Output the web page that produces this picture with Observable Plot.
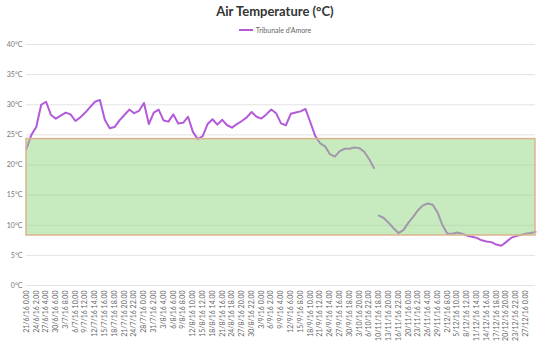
<!DOCTYPE html>
<html>
<head>
<meta charset="utf-8">
<script src="https://cdn.jsdelivr.net/npm/d3@7"></script>
<script src="https://cdn.jsdelivr.net/npm/@observablehq/plot@0.6"></script>
<style>
  html, body { margin: 0; padding: 0; background: #fff; }
  body { width: 550px; height: 353px; overflow: hidden; font-family: Lato, "Open Sans", sans-serif; }
  #title { height: 22px; line-height: 22px; text-align: center; font-weight: bold; font-size: 13px; color: #333; padding-top: 0px; }
  #legend { height: 16px; display: flex; justify-content: center; align-items: center; font-size: 7px; color: #666; }
  #legend .sw { width: 14px; height: 2px; background: #b25ad8; margin-right: 3px; }
</style>
</head>
<body>
<div id="title">Air Temperature (°C)</div>
<div id="legend"><span class="sw"></span><span>Tribunale d'Amore</span></div>
<div id="chart"></div>
<script>
// Category tick labels (one every 74 hours)
const tickLabels = [
  "21/6/16 0.00","24/6/16 2.00","27/6/16 4.00","30/6/16 6.00","3/7/16 8.00","6/7/16 10.00",
  "9/7/16 12.00","12/7/16 14.00","15/7/16 16.00","18/7/16 18.00","21/7/16 20.00","24/7/16 22.00",
  "28/7/16 0.00","31/7/16 2.00","3/8/16 4.00","6/8/16 6.00","9/8/16 8.00","12/8/16 10.00",
  "15/8/16 12.00","18/8/16 14.00","21/8/16 16.00","24/8/16 18.00","27/8/16 20.00","30/8/16 22.00",
  "3/9/16 0.00","6/9/16 2.00","9/9/16 4.00","12/9/16 6.00","15/9/16 8.00","18/9/16 10.00",
  "21/9/16 12.00","24/9/16 14.00","27/9/16 16.00","30/9/16 18.00","3/10/16 20.00","6/10/16 22.00",
  "10/11/16 18.00","13/11/16 20.00","16/11/16 22.00","20/11/16 0.00","23/11/16 2.00","26/11/16 4.00",
  "29/11/16 6.00","2/12/16 8.00","5/12/16 10.00","8/12/16 12.00","11/12/16 14.00","14/12/16 16.00",
  "17/12/16 18.00","20/12/16 20.00","23/12/16 22.00","27/12/16 0.00"
];

// Temperature readings, one every half label interval (37 h)
// Segment before the data gap, starting at category 0
const tempsSummer = [
  22.7, 25.0, 26.3, 30.0, 30.5, 28.3, 27.7, 28.2, 28.7, 28.4,
  27.3, 27.9, 28.7, 29.6, 30.5, 30.8, 27.5, 26.1, 26.3, 27.4,
  28.3, 29.2, 28.6, 29.0, 30.3, 26.8, 28.7, 29.2, 27.4, 27.2,
  28.4, 26.9, 27.0, 28.0, 25.5, 24.3, 24.8, 26.8, 27.6, 26.7,
  27.5, 26.6, 26.2, 26.8, 27.3, 27.9, 28.8, 28.0, 27.7, 28.4,
  29.2, 28.6, 26.9, 26.6, 28.5, 28.7, 28.9, 29.3, 27.1, 24.8,
  23.6, 23.1, 21.8, 21.4, 22.3, 22.7, 22.7, 22.9, 22.8, 22.2,
  21.0, 19.5
];
// Segment after the data gap, starting at category 36
const tempsWinter = [
  11.6, 11.2, 10.4, 9.5, 8.7, 9.2, 10.4, 11.4, 12.5, 13.3,
  13.6, 13.4, 12.1, 10.0, 8.6, 8.6, 8.8, 8.6, 8.3, 8.1,
  7.9, 7.5, 7.3, 7.2, 6.8, 6.6, 7.2, 7.9, 8.2, 8.4,
  8.6, 8.7, 8.9
];
const summerStart = 0;
const winterStart = 36;
const stepPerReading = 0.5;

// Comfort band limits (°C)
const bandLow = 8.3;
const bandHigh = 24.3;

const yTicks = [0, 5, 10, 15, 20, 25, 30, 35, 40];

const series = [
  ...tempsSummer.map((t, i) => ({pos: summerStart + i * stepPerReading, temp: t, seg: "a"})),
  ...tempsWinter.map((t, i) => ({pos: winterStart + i * stepPerReading, temp: t, seg: "b"}))
];
const xMax = d3.max(series, d => d.pos);

const chart = Plot.plot({
  width: 550,
  height: 315,
  marginLeft: 26,
  marginRight: 15,
  marginTop: 6,
  marginBottom: 68,
  style: {fontFamily: "Lato, 'Open Sans', sans-serif", fontSize: "7px", color: "#666", background: "#fff"},
  x: {domain: [0, xMax], axis: null, label: null},
  y: {domain: [0, 40], axis: null, label: null},
  marks: [
    Plot.ruleY(yTicks, {stroke: "#e3e3e3", strokeWidth: 1}),
    Plot.line(series, {x: "pos", y: "temp", z: "seg", stroke: "#b25ad8", strokeWidth: 2, strokeLinejoin: "round"}),
    Plot.rect([{lo: bandLow, hi: bandHigh}], {x1: 0, x2: xMax, y1: "lo", y2: "hi", fill: "#8fd67f", fillOpacity: 0.5, stroke: "#dcb58e", strokeWidth: 1.5}),
    Plot.axisY(yTicks, {tickSize: 0, tickPadding: 4, tickFormat: d => `${d}°C`, fill: "#777", fontSize: 7, label: null}),
    Plot.axisX(d3.range(tickLabels.length), {tickSize: 0, tickPadding: 5, tickRotate: -90, tickFormat: i => tickLabels[i], fill: "#666", fontSize: 7, label: null})
  ]
});
document.getElementById("chart").appendChild(chart);
</script>
</body>
</html>
